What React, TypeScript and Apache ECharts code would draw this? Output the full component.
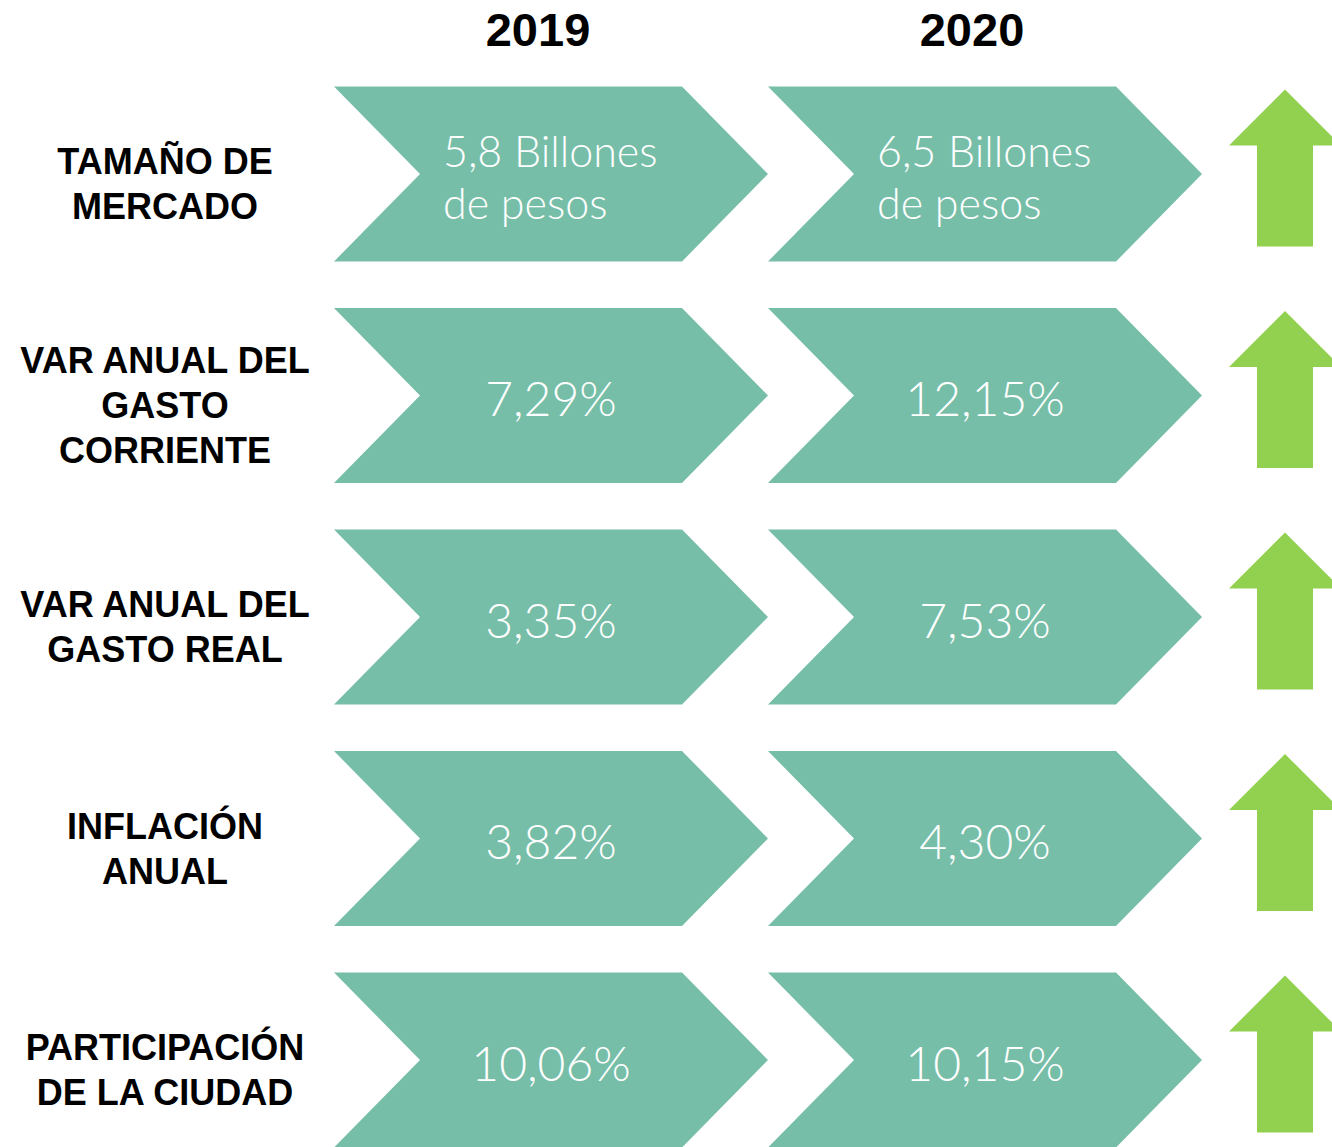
import React, { useEffect, useRef } from "react";
import * as echarts from "echarts";

const years = ["2019", "2020"];
const rowLabels = [
  "TAMAÑO DE\nMERCADO",
  "VAR ANUAL DEL\nGASTO\nCORRIENTE",
  "VAR ANUAL DEL\nGASTO REAL",
  "INFLACIÓN\nANUAL",
  "PARTICIPACIÓN\nDE LA CIUDAD",
];
const values2019 = [5.8, 7.29, 3.35, 3.82, 10.06];
const values2020 = [6.5, 12.15, 7.53, 4.3, 10.15];
const units = ["billones", "pct", "pct", "pct", "pct"];

const TEAL = "#76BEA8";
const GREEN = "#92D050";

function fmt(v: number, unit: string): string {
  if (unit === "billones") return `${v.toFixed(1).replace(".", ",")} Billones\nde pesos`;
  return `${v.toFixed(2).replace(".", ",")}%`;
}

export default function App() {
  const ref = useRef<HTMLDivElement>(null);
  useEffect(() => {
    if (!ref.current) return;
    const chart = echarts.init(ref.current, null, { renderer: "svg" });

    const cells: { col: number; row: number; text: string; unit: string }[] = [];
    rowLabels.forEach((_, r) => {
      cells.push({ col: 0, row: r, text: fmt(values2019[r], units[r]), unit: units[r] });
      cells.push({ col: 1, row: r, text: fmt(values2020[r], units[r]), unit: units[r] });
    });
    const trends = rowLabels.map((_, r) => (values2020[r] >= values2019[r] ? 1 : -1));

    chart.setOption({
      animation: false,
      grid: { left: 334, right: 130, top: 174, bottom: 87, containLabel: false, outerBoundsMode: "none" },
      xAxis: {
        type: "category",
        data: years,
        position: "top",
        axisLine: { show: false },
        axisTick: { show: false },
        splitLine: { show: false },
        axisLabel: {
          margin: 121,
          color: "#000",
          fontSize: 47,
          fontWeight: "bold",
          fontFamily: "Liberation Sans, Arial, sans-serif",
          padding: [0, 26, 0, 0],
        },
      },
      yAxis: {
        type: "category",
        data: rowLabels,
        inverse: true,
        boundaryGap: false,
        axisLine: { show: false },
        axisTick: { show: false },
        splitLine: { show: false },
        axisLabel: {
          align: "center",
          margin: 169,
          formatter: (v: string) =>
            "{p| }\n" + v.split("\n").map((s) => `{l|${s}}`).join("\n"),
          rich: {
            p: { fontSize: 10, lineHeight: 20 },
            l: {
              color: "#000",
              fontSize: 36,
              lineHeight: 45,
              fontWeight: "bold",
              fontFamily: "Liberation Sans, Arial, sans-serif",
              align: "center",
            },
          },
        },
      },
      series: [
        {
          type: "custom",
          clip: false,
          data: cells.map((c) => [c.col, c.row]),
          encode: { x: 0, y: 1 },
          renderItem: (params: any, api: any) => {
            const c = cells[params.dataIndex];
            const p = api.coord([api.value(0), api.value(1)]);
            const w = api.size([1, 0])[0];
            const h = 175;
            const d = 86;
            const L = p[0] - w / 2;
            const R = p[0] + w / 2;
            const T = p[1] - h / 2;
            const B = p[1] + h / 2;
            const two = c.unit === "billones";
            return {
              type: "group",
              children: [
                {
                  type: "polygon",
                  shape: {
                    points: [
                      [L, T],
                      [R - d, T],
                      [R, p[1]],
                      [R - d, B],
                      [L, B],
                      [L + d, p[1]],
                    ],
                  },
                  style: { fill: TEAL },
                },
                {
                  type: "text",
                  style: {
                    text: c.text,
                    x: two ? p[0] - 108 : p[0],
                    y: p[1] + 2,
                    fill: "#fff",
                    fontSize: two ? 43 : 48,
                    lineHeight: 52,
                    fontWeight: 300,
                    fontFamily: "Lato, sans-serif",
                    align: two ? "left" : "center",
                    verticalAlign: "middle",
                    textAlign: two ? "left" : "center",
                    textVerticalAlign: "middle",
                  },
                },
              ],
            };
          },
        },
        {
          type: "custom",
          clip: false,
          data: trends.map((t, r) => [1, r, t]),
          encode: { x: 0, y: 1 },
          renderItem: (params: any, api: any) => {
            const p = api.coord([api.value(0), api.value(1)]);
            const dir = api.value(2) >= 0 ? 1 : -1;
            const cx = p[0] + 300;
            const cy = p[1] - 6;
            const half = 78.5;
            const tipY = cy - dir * half;
            const baseY = cy + dir * half;
            const headY = tipY + dir * 56;
            return {
              type: "polygon",
              shape: {
                points: [
                  [cx, tipY],
                  [cx + 56, headY],
                  [cx + 28, headY],
                  [cx + 28, baseY],
                  [cx - 28, baseY],
                  [cx - 28, headY],
                  [cx - 56, headY],
                ],
              },
              style: { fill: GREEN },
            };
          },
        },
      ],
    });
    return () => chart.dispose();
  }, []);
  return (
    <div
      ref={ref}
      style={{ position: "absolute", left: 0, top: 0, width: 1332, height: 1147, background: "#fff" }}
    />
  );
}
